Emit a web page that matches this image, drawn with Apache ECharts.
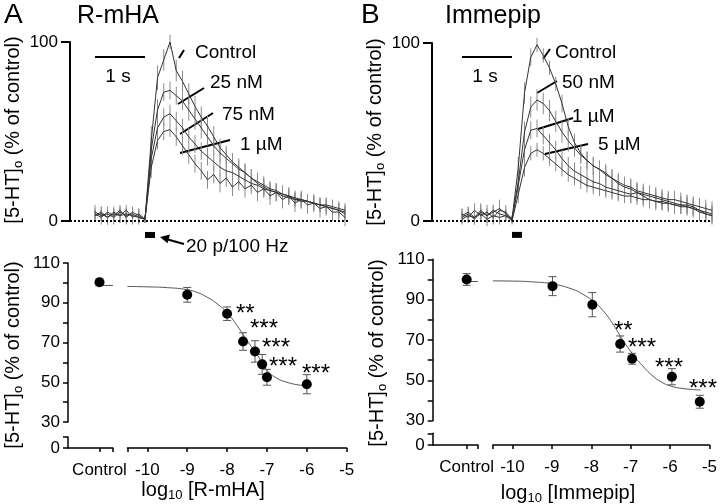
<!DOCTYPE html>
<html>
<head>
<meta charset="utf-8">
<script src="https://cdn.jsdelivr.net/npm/echarts@6/dist/echarts.min.js"></script>
<style>
html, body { margin: 0; padding: 0; background: #fff; }
#chart { width: 720px; height: 504px; }
</style>
</head>
<body>
<div id="chart"></div>
<script>
// time courses: one sample every 0.125 s, first sample at -1 s (stimulus at 0 s)
var dt = 0.125, t0 = -1;

// A: R-mHA, [5-HT]o in % of control peak
var rmhaCtrl = [4,2,5,3,6,2,5,3, 1, 45,80,90,100, 84,78,71,64,58,53,47,41,37,33,30,27,24,21,19,17,16,15,14,13,12,11,10,9,9,8,7,6];
var rmha25n  = [3,5,2,4,3,6,2,4, 1, 40,62,72,73, 70,67,62,57,52,47,42,38,35,32,29,27,24,22,20,18,17,15,14,12,12,11,10,9,8,7,6,4];
var rmha75n  = [5,3,4,2,5,3,4,2, 1, 35,52,58,60, 56,52,47,43,39,36,33,30,28,27,25,23,21,20,18,17,16,14,13,12,11,11,10,9,8,7,6,5];
var rmha1u   = [3,4,2,5,3,4,3,2, 1, 30,45,50,51, 47,42,37,32,28,23,26,21,24,19,22,18,20,16,18,14,16,12,14,10,12,9,10,7,8,5,5,2];
var rmhaCtrlErr = [3,4,3,4,3,4,3,4, 2, 8,7,6,4, 6,6,6,6,6,6,6,5,5,5,5,5,5,5,5,5,5,5,4,4,4,4,4,4,4,4,4,4];
var rmha25nErr  = [3,3,4,3,4,3,4,3, 2, 7,6,5,5, 5,5,6,6,6,5,5,5,5,5,5,5,5,5,5,4,4,4,4,4,4,4,4,4,4,4,4,4];
var rmha75nErr  = [4,3,3,4,3,4,3,3, 2, 6,6,5,5, 5,5,5,5,5,5,5,5,5,5,5,5,4,4,4,4,4,4,4,4,4,4,4,4,4,4,4,4];
var rmha1uErr   = [3,4,4,3,4,3,4,4, 2, 6,5,5,4, 5,5,5,5,5,5,5,5,5,5,5,5,5,5,5,5,5,5,5,5,5,5,5,5,5,5,5,5];

// B: Immepip
var immCtrl = [3,5,2,6,3,5,7,4, 1, 30,72,92,99, 93,86,77,66,53,44,38,34,31,29,27,24,22,20,19,17,16,15,14,13,12,12,11,10,9,8,7,6];
var imm50n  = [2,4,1,5,3,6,4,3, 1, 22,50,64,68, 66,62,56,50,45,41,37,34,31,29,26,24,21,19,18,16,15,14,13,12,11,10,9,9,8,6,5,4];
var imm1u   = [4,2,6,3,5,2,6,5, 1, 20,40,51,52, 48,44,40,35,31,28,26,24,22,21,19,18,17,16,15,16,14,12,11,11,10,9,9,8,7,5,4,3];
var imm5u   = [1,3,2,4,1,3,2,3, 0, 15,30,38,40, 38,35,32,29,26,24,22,20,19,18,17,16,15,14,14,13,12,12,11,10,10,9,8,8,7,6,4,3];
var immCtrlErr = [4,3,4,4,3,4,5,3, 2, 6,6,5,4, 4,4,4,5,5,5,5,5,5,5,5,5,5,5,5,5,5,5,5,5,5,5,5,5,5,5,5,5];
var imm50nErr  = [3,4,3,4,4,3,4,3, 2, 6,6,6,6, 6,6,6,6,6,5,5,5,5,5,5,5,5,5,5,5,5,5,5,5,5,5,5,5,5,5,5,5];
var imm1uErr   = [3,3,4,3,4,4,3,4, 2, 5,5,5,5, 5,5,5,5,5,5,5,5,5,5,5,5,5,5,5,5,5,5,5,5,5,5,5,5,5,5,5,5];
var imm5uErr   = [3,4,3,3,4,3,4,3, 2, 5,5,4,4, 4,4,4,4,4,4,4,4,4,4,4,4,4,4,4,4,4,4,4,4,4,4,4,4,4,4,4,4];

// concentration-response, log10 [drug] vs % of control
var rmhaCtrlMean = 100.3, rmhaCtrlSem = 1.7, rmhaCtrlFit = 98.7;
var rmhaLog  = [-9, -8, -7.6, -7.3, -7.12, -7, -6];
var rmhaMean = [94, 84.5, 70.5, 65.5, 59, 52.5, 49];
var rmhaSem  = [3.7, 3.4, 4.4, 5.4, 5, 4, 4.8];
var rmhaFitX = [-10.5, -10, -9.5, -9, -8.75, -8.5, -8.25, -8, -7.75, -7.5, -7.25, -7, -6.75, -6.5, -6.25, -6];
var rmhaFitY = [98.2, 98, 97.6, 96.6, 95.2, 92.8, 89.5, 85, 78.5, 71, 64, 56, 52, 50, 48.8, 48.2];

var immCtrlMean = 100, immCtrlSem = 2.9, immCtrlFit = 99;
var immLog  = [-9, -8, -7.3, -7, -6, -5.3];
var immMean = [96.7, 87.5, 68, 60.7, 51.8, 39.4];
var immSem  = [4.7, 6, 4, 2.7, 4, 3.2];
var immFitX = [-10.5, -10, -9.5, -9, -8.5, -8.25, -8, -7.75, -7.5, -7.25, -7, -6.75, -6.5, -6.25, -6, -5.75, -5.5, -5.28];
var immFitY = [99.3, 99.2, 98.8, 97.8, 95.2, 92.8, 89.6, 85, 78.5, 70.5, 63.4, 57.5, 52.5, 49, 47, 46, 45.5, 45.2];

var decadeTicks = [-10, -9, -8, -7, -6, -5];

var FONT = '"Liberation Sans", Arial, Helvetica, sans-serif';

function trace(vals, errs) {
    return vals.map(function (v, i) { return [t0 + i * dt, v, errs[i]]; });
}

function errRender(cap, color) {
    return function (params, api) {
        var x = api.value(0), y = api.value(1), e = api.value(2);
        var a = api.coord([x, y + e]), b = api.coord([x, y - e]);
        var st = { stroke: color, lineWidth: 1 };
        var kids = [{ type: 'line', shape: { x1: a[0], y1: a[1], x2: b[0], y2: b[1] }, style: st }];
        if (cap) {
            kids.push({ type: 'line', shape: { x1: a[0] - cap, y1: a[1], x2: a[0] + cap, y2: a[1] }, style: st });
            kids.push({ type: 'line', shape: { x1: b[0] - cap, y1: b[1], x2: b[0] + cap, y2: b[1] }, style: st });
        }
        return { type: 'group', children: kids };
    };
}

var series = [];

function addTrace(g, vals, errs) {
    var pts = trace(vals, errs);
    series.push({ type: 'custom', xAxisIndex: g, yAxisIndex: g, data: pts, renderItem: errRender(0, '#8c8c8c'), z: 2 });
    series.push({ type: 'line', xAxisIndex: g, yAxisIndex: g, data: pts, symbol: 'none',
        lineStyle: { color: '#333', width: 1 }, z: 3 });
}

addTrace(0, rmhaCtrl, rmhaCtrlErr);
addTrace(0, rmha25n, rmha25nErr);
addTrace(0, rmha75n, rmha75nErr);
addTrace(0, rmha1u, rmha1uErr);
addTrace(1, immCtrl, immCtrlErr);
addTrace(1, imm50n, imm50nErr);
addTrace(1, imm1u, imm1uErr);
addTrace(1, imm5u, imm5uErr);

// stimulus bar, zero line and 1 s scale bar for each trace panel
[0, 1].forEach(function (g) {
    series.push({
        type: 'scatter', xAxisIndex: g, yAxisIndex: g, clip: false, z: 5,
        data: [[0.1, -7.8]], symbol: 'rect', symbolSize: [10, 6], itemStyle: { color: '#000', opacity: 1 },
        markLine: {
            silent: true, symbol: 'none', label: { show: false },
            data: [
                { yAxis: 0, lineStyle: { color: '#000', width: 2, type: [2, 2] } },
                [{ coord: [-1, 92], lineStyle: { color: '#000', width: 2, type: 'solid' } }, { coord: [0, 92] }]
            ]
        }
    });
});

function addDose(gc, gm, ctrlMean, ctrlSem, ctrlFit, ctrlEnd, xs, means, sems, fx, fy) {
    series.push({ type: 'line', xAxisIndex: gc, yAxisIndex: gc, data: [[0, ctrlFit], [ctrlEnd, ctrlFit]],
        symbol: 'none', lineStyle: { color: '#555', width: 1 } });
    series.push({ type: 'custom', xAxisIndex: gc, yAxisIndex: gc, data: [[0, ctrlMean, ctrlSem]],
        renderItem: errRender(4, '#555'), z: 3 });
    series.push({ type: 'scatter', xAxisIndex: gc, yAxisIndex: gc, data: [[0, ctrlMean]],
        symbolSize: 10, itemStyle: { color: '#000', opacity: 1 }, z: 5 });
    series.push({ type: 'line', xAxisIndex: gm, yAxisIndex: gm, smooth: true, symbol: 'none',
        data: fx.map(function (x, i) { return [x, fy[i]]; }), lineStyle: { color: '#555', width: 1 } });
    series.push({ type: 'custom', xAxisIndex: gm, yAxisIndex: gm, renderItem: errRender(4, '#555'), z: 3,
        data: xs.map(function (x, i) { return [x, means[i], sems[i]]; }) });
    series.push({ type: 'scatter', xAxisIndex: gm, yAxisIndex: gm, symbolSize: 10, itemStyle: { color: '#000', opacity: 1 }, z: 5,
        data: xs.map(function (x, i) { return [x, means[i]]; }) });
}

addDose(2, 4, rmhaCtrlMean, rmhaCtrlSem, rmhaCtrlFit, 0.3, rmhaLog, rmhaMean, rmhaSem, rmhaFitX, rmhaFitY);
addDose(6, 8, immCtrlMean, immCtrlSem, immCtrlFit, 0.25, immLog, immMean, immSem, immFitX, immFitY);

var black = { color: '#000', width: 1.5 };
var lbl = { color: '#000', fontSize: 17, fontFamily: FONT };
function hidden(g, min, max) {
    return { gridIndex: g, type: 'value', min: min, max: max, show: false };
}

var grids = [
    { left: 70, top: 42, width: 280, height: 179 },
    { left: 432, top: 43, width: 280, height: 178 },
    { left: 68, top: 263, width: 45, height: 159 },
    { left: 68, top: 437, width: 45, height: 11 },
    { left: 127.4, top: 263, width: 219.3, height: 159 },
    { left: 127.4, top: 437, width: 219.3, height: 11 },
    { left: 432.7, top: 259.3, width: 45.3, height: 161.4 },
    { left: 432.7, top: 433.3, width: 45.3, height: 11.7 },
    { left: 492.8, top: 259.3, width: 218.9, height: 161.4 },
    { left: 492.8, top: 433.3, width: 218.9, height: 11.7 }
];

function topY(g) {
    return { gridIndex: g, type: 'value', min: 0, max: 100, interval: 100, splitLine: { show: false },
        axisLine: { show: true, onZero: false, lineStyle: { color: '#000', width: 2 } },
        axisTick: { length: 9, lineStyle: { color: '#000', width: 2 } },
        axisLabel: Object.assign({ margin: 12 }, lbl) };
}
function upY(g) {
    return { gridIndex: g, type: 'value', min: 30, max: 110, interval: 10, splitLine: { show: false },
        axisLine: { show: true, onZero: false, lineStyle: black }, axisTick: { length: 5, lineStyle: black },
        axisLabel: Object.assign({ margin: 8, formatter: function (v) { return (v - 30) % 20 === 0 ? v : ''; } }, lbl) };
}
function lowY(g, max) {
    return { gridIndex: g, type: 'value', min: 0, max: max, interval: max, splitLine: { show: false },
        axisLine: { show: true, onZero: false, lineStyle: black }, axisTick: { length: 5, lineStyle: black },
        axisLabel: Object.assign({ margin: 8, formatter: function (v) { return v === 0 ? '0' : ''; } }, lbl) };
}
function ctrlX(g, min, max) {
    return { gridIndex: g, type: 'value', min: min, max: max, splitLine: { show: false },
        axisLine: { show: true, onZero: false, lineStyle: black },
        axisTick: { length: 4, lineStyle: black, customValues: [0, max] },
        axisLabel: Object.assign({ margin: 14, customValues: [0], formatter: function () { return 'Control'; } }, lbl) };
}
function logX(g) {
    return { gridIndex: g, type: 'value', min: -10.5, max: -5, splitLine: { show: false },
        axisLine: { show: true, onZero: false, lineStyle: black },
        axisTick: { length: 4, lineStyle: black, customValues: [-10.5].concat(decadeTicks) },
        axisLabel: Object.assign({ margin: 14, customValues: decadeTicks }, lbl) };
}

var xAxes = [
    hidden(0, -1.5, 4.1), hidden(1, -1.6, 4.0),
    hidden(2, -0.7, 0.3), ctrlX(3, -0.7, 0.3), hidden(4, -10.5, -5), logX(5),
    hidden(6, -0.75, 0.25), ctrlX(7, -0.75, 0.25), hidden(8, -10.5, -5), logX(9)
];
var yAxes = [
    topY(0), topY(1),
    upY(2), lowY(3, 5.5), hidden(4, 30, 110), hidden(5, 0, 5.5),
    upY(6), lowY(7, 5.8), hidden(8, 30, 110), hidden(9, 0, 5.8)
];

function txt(s, x, y, size, align, extra) {
    var el = { type: 'text', x: x, y: y, silent: true,
        style: { text: s, fontSize: size, fontFamily: FONT, fill: '#000', align: align || 'left', verticalAlign: 'middle' } };
    if (extra) {
        if (extra.rotation) el.rotation = extra.rotation;
        if (extra.rich) { el.style.rich = extra.rich; el.style.lineHeight = 24; }
    }
    return el;
}
function seg(x1, y1, x2, y2, w) {
    return { type: 'line', silent: true, shape: { x1: x1, y1: y1, x2: x2, y2: y2 }, style: { stroke: '#000', lineWidth: w || 2 } };
}
var sub = { s: { fontSize: 13, fontFamily: FONT, verticalAlign: 'bottom', lineHeight: 13 } };
var yTitle = '[5-HT]{s|o} (% of control)';
var rot = { rotation: Math.PI / 2, rich: sub };

var graphics = [
    txt('A', 4, 15, 28), txt('R-mHA', 77, 16, 25),
    txt('B', 361, 15, 28), txt('Immepip', 445, 16, 25),
    txt(yTitle, 13, 130, 20, 'center', rot), txt(yTitle, 375, 132, 20, 'center', rot),
    txt(yTitle, 13, 355, 20, 'center', rot), txt(yTitle, 377, 353, 20, 'center', rot),
    txt('log{s|10} [R-mHA]', 203, 490, 20, 'center', { rich: sub }),
    txt('log{s|10} [Immepip]', 568, 493, 20, 'center', { rich: sub }),
    txt('1 s', 118, 77, 19, 'center'), txt('1 s', 485, 77, 19, 'center'),
    txt('Control', 195, 53, 19), txt('25 nM', 210, 83, 19), txt('75 nM', 222, 115, 19), txt('1 µM', 240, 145, 19),
    seg(179, 58, 184, 50), seg(178, 104, 204, 88), seg(180, 134, 213, 113), seg(180, 153, 230, 140),
    txt('Control', 555, 53, 19), txt('50 nM', 562, 83, 19), txt('1 µM', 572, 117, 19), txt('5 µM', 598, 145, 19),
    seg(543, 59, 550, 49), seg(537, 93, 557, 81), seg(538, 129, 573, 118), seg(545, 154, 588, 144),
    seg(184, 244, 166, 239),
    { type: 'polygon', silent: true, shape: { points: [[160, 237], [170, 234.5], [167.6, 243.2]] }, style: { fill: '#000' } },
    txt('20 p/100 Hz', 186, 247, 19),
    txt('**', 236, 314, 24), txt('***', 250, 329, 24), txt('***', 262, 348, 24), txt('***', 269, 367, 24), txt('***', 302, 374, 24),
    txt('**', 614, 331, 24), txt('***', 628, 348, 24), txt('***', 655, 368, 24), txt('***', 689, 389, 24)
];

var chart = echarts.init(document.getElementById('chart'));
chart.setOption({
    animation: false,
    backgroundColor: '#fff',
    grid: grids,
    xAxis: xAxes,
    yAxis: yAxes,
    series: series,
    graphic: graphics
});
</script>
</body>
</html>
